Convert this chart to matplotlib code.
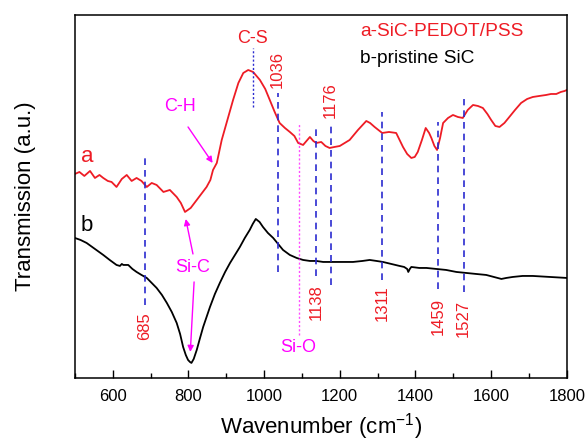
import numpy as np
import matplotlib
matplotlib.use("Agg")
import matplotlib.pyplot as plt
from matplotlib.ticker import MultipleLocator

plt.rcParams['font.family'] = ['Liberation Sans', 'DejaVu Sans']

# FTIR spectra (transmission, arbitrary units)
wn_a = [500, 512, 525, 540, 553, 565, 575, 587, 597, 610, 624, 637, 650, 663, 676,
        690, 703, 716, 734, 751, 769, 780, 791, 806, 822, 848, 858, 865, 875, 888,
        903, 918, 932, 945, 958, 971, 989, 1003, 1015, 1028, 1041, 1055, 1068, 1080,
        1090, 1103, 1112, 1121, 1130, 1138, 1151, 1162, 1173, 1186, 1200, 1213, 1226,
        1248, 1270, 1280, 1292, 1312, 1330, 1349, 1367, 1378, 1389, 1398, 1406, 1417,
        1427, 1436, 1442, 1450, 1457, 1465, 1473, 1486, 1499, 1512, 1525, 1538, 1552,
        1565, 1578, 1590, 1600, 1611, 1622, 1635, 1648, 1663, 1679, 1695, 1710, 1727,
        1745, 1758, 1772, 1784, 1794, 1800]
trans_a = [204, 206, 202, 207, 200, 203, 200, 197, 196, 191, 199, 203, 197, 200, 197,
           191, 195, 193, 186, 188, 181, 175, 166, 170, 178, 191, 198, 208, 215, 238,
           258, 278, 295, 305, 308, 306, 298, 289, 278, 266, 255, 250, 246, 242,
           235, 233, 237, 241, 237, 235, 236, 232, 230, 231, 232, 235, 238,
           248, 257, 255, 251, 245, 246, 245, 231, 224, 220, 221, 226, 238,
           250, 245, 240, 232, 228, 240, 255, 260, 263, 261, 260, 268, 273,
           272, 270, 264, 258, 252, 251, 255, 261, 268, 275, 279, 281, 282,
           283, 284, 284, 286, 287, 288]

wn_b = [500, 515, 531, 553, 575, 592, 610, 619, 624, 628, 635, 641, 652, 663, 676,
        690, 703, 716, 730, 743, 756, 769, 778, 786, 793, 799, 804, 808, 814, 822,
        830, 839, 848, 857, 870, 883, 897, 910, 923, 936, 949, 962, 970, 978, 988,
        997, 1010, 1024, 1037, 1050, 1068, 1086, 1103, 1121, 1138, 1156, 1174, 1200,
        1235, 1260, 1279, 1297, 1314, 1336, 1358, 1370, 1378, 1381, 1385, 1389, 1410,
        1429, 1455, 1481, 1508, 1534, 1560, 1587, 1607, 1627, 1640, 1657, 1683, 1710,
        1755, 1800]
trans_b = [140, 138, 135, 129, 123, 118, 113, 112, 114, 113, 113, 113, 109, 106, 103,
           100, 95, 90, 83, 75, 66, 55, 44, 31, 23, 18, 16, 15, 19, 28,
           39, 51, 61, 71, 84, 95, 106, 115, 123, 131, 140, 148, 154, 159, 156,
           151, 145, 140, 134, 128, 123, 120, 118, 117, 117, 116, 116, 116,
           116, 117, 118, 117, 116, 114, 112, 111, 109, 106, 109, 111, 110,
           110, 109, 108, 106, 105, 104, 103, 101, 99, 100, 101, 102, 102,
           101, 100]

# marked band positions and their dashed-line extents
bands = [685, 1036, 1138, 1176, 1311, 1459, 1527]
band_top = [220, 285, 252, 252, 266, 256, 279]
band_bottom = [73, 106, 102, 93, 98, 89, 86]
band_label_y = [52, 308, 76, 278, 75, 62, 60]
cs_band = 970
sio_band = 1093

red = '#ee1c25'
blue = '#2b2bd0'
magenta = '#ff00ff'

fig = plt.figure(figsize=(5.85, 4.41), dpi=100)
ax = fig.add_axes([0.128, 0.143, 0.841, 0.823])

ax.plot(wn_a, trans_a, color=red, lw=1.3)
ax.plot(wn_b, trans_b, color='black', lw=1.3)

for wn, y0, y1, ly in zip(bands, band_top, band_bottom, band_label_y):
    ax.plot([wn, wn], [y1, y0], color=blue, lw=1.2, ls=(0, (4, 3)))
    ax.text(wn, ly, str(wn), color=red, fontsize=12, rotation=90,
            ha='center', va='center')

ax.plot([cs_band, cs_band], [271, 330], color=blue, lw=1, ls=(0, (1.5, 1.5)))
ax.text(cs_band, 339, 'C-S', color=red, fontsize=13, ha='center', va='center')

ax.plot([sio_band, sio_band], [43, 255], color=magenta, lw=1, ls=(0, (1.5, 1.5)), alpha=0.7)
ax.text(1090, 30, 'Si-O', color=magenta, fontsize=13, ha='center', va='center')

arrow = dict(arrowstyle='-|>', color=magenta, lw=1, mutation_scale=9, shrinkA=0, shrinkB=0)
ax.text(778, 271, 'C-H', color=magenta, fontsize=13, ha='center', va='center')
ax.annotate('', xy=(864, 215), xytext=(799, 251), arrowprops=arrow)
ax.text(812, 110, 'Si-C', color=magenta, fontsize=13, ha='center', va='center')
ax.annotate('', xy=(793, 159), xytext=(812, 124), arrowprops=arrow)
ax.annotate('', xy=(805, 26), xytext=(815, 96), arrowprops=arrow)

ax.text(534, 221, 'a', color=red, fontsize=16, ha='center', va='center')
ax.text(532, 152, 'b', color='black', fontsize=16, ha='center', va='center')

ax.text(1253, 346, 'a-SiC-PEDOT/PSS', color=red, fontsize=13.8, ha='left', va='center')
ax.text(1253, 319, 'b-pristine SiC', color='black', fontsize=13.8, ha='left', va='center')

ax.set_xlim(500, 1800)
ax.set_ylim(0, 363)
ax.set_yticks([])
ax.xaxis.set_major_locator(MultipleLocator(200))
ax.xaxis.set_minor_locator(MultipleLocator(100))
ax.tick_params(axis='x', which='major', direction='in', length=6, width=1,
               labelsize=12, pad=8)
ax.tick_params(axis='x', which='minor', direction='in', length=3.5, width=1)
for s in ax.spines.values():
    s.set_linewidth(1.1)

ax.set_xlabel('Wavenumber (cm$^{\\mathregular{-1}}$)', fontsize=16, labelpad=5)
ax.set_ylabel('Transmission (a.u.)', fontsize=16, labelpad=28)

fig.savefig('out.png', dpi=100)
